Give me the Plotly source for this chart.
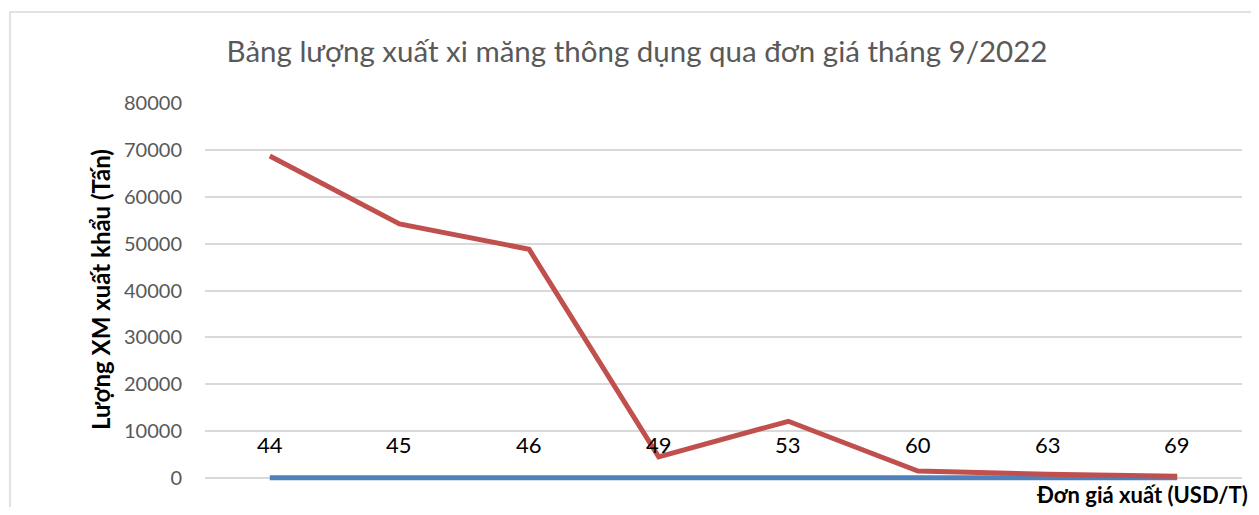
import plotly.graph_objs as go

# categories: export unit price (USD/T)
don_gia = ["44", "45", "46", "49", "53", "60", "63", "69"]
# price series (drawn near zero on the tonnage scale, labelled with its values)
gia_tri = [44, 45, 46, 49, 53, 60, 63, 69]
# export volume (tonnes)
luong_xuat = [68700, 54200, 48800, 4500, 12100, 1500, 800, 400]
y_ticks = [0, 10000, 20000, 30000, 40000, 50000, 60000, 70000, 80000]

# page body has an 8px margin, so the figure is 16px smaller than the window
OFF = 8
W, H = 1259 - 2 * OFF, 515 - 2 * OFF
Y0 = -640  # a little room under 0 so the thick line at zero is not clipped
bottom = 478 + (-Y0) / 80000 * 375
L, R, T, B = 205 - OFF, W - (1242 - OFF), 103 - OFF, H - (bottom - OFF)
pw, ph = W - L - R, H - T - B


def px(x):
    return (x - OFF - L) / pw


def py(y):
    return (bottom - y) / ph


fig = go.Figure()
fig.add_trace(go.Scatter(x=don_gia, y=gia_tri, mode="lines", name="Đơn giá",
                         line=dict(color="#4F81BD", width=5), hoverinfo="skip"))
fig.add_trace(go.Scatter(x=don_gia, y=luong_xuat, mode="lines", name="Lượng",
                         line=dict(color="#C0504D", width=5), hoverinfo="skip"))

# data labels of the price series
for i, v in enumerate(gia_tri):
    fig.add_annotation(x=i, y=v, text=str(v), showarrow=False, yshift=33,
                       font=dict(family="Lato", size=22, color="#000000"))

fig.add_annotation(text="<b>Lượng XM xuất khẩu (Tấn)</b>", textangle=-90, showarrow=False,
                   xref="paper", yref="paper", x=px(100), y=py(290),
                   xanchor="center", yanchor="middle",
                   font=dict(family="Lato", size=24, color="#000000"))
fig.add_annotation(text="<b>Đơn giá xuất (USD/T)</b>", showarrow=False,
                   xref="paper", yref="paper", x=px(1250), y=py(494),
                   xanchor="right", yanchor="middle",
                   font=dict(family="Lato", size=22, color="#000000"))

# chart border
fig.add_shape(type="rect", xref="paper", yref="paper",
              x0=px(10), x1=px(1270), y0=py(530), y1=py(12),
              line=dict(color="#D9D9D9", width=1.5), layer="below")

fig.update_layout(
    width=W, height=H, autosize=False,
    margin=dict(l=L, r=R, t=T, b=B),
    plot_bgcolor="white", paper_bgcolor="white", showlegend=False,
    title=dict(text="Bảng lượng xuất xi măng thông dụng qua đơn giá tháng 9/2022",
               xref="container", yref="container", x=(637 - OFF) / W, y=1 - (52 - OFF) / H,
               xanchor="center", yanchor="middle",
               font=dict(family="Lato", size=29.5, color="#595959")),
)
fig.update_xaxes(type="category", range=[-0.5, 7.5], showticklabels=False,
                 showgrid=False, zeroline=False, showline=False)
fig.update_yaxes(range=[Y0, 80000], tickvals=y_ticks, tickformat="d",
                 gridcolor="#D9D9D9", gridwidth=1.5,
                 zeroline=False, showline=False, ticklabelstandoff=22,
                 tickfont=dict(family="Lato", size=20, color="#595959"))

fig.write_html("out.html")
